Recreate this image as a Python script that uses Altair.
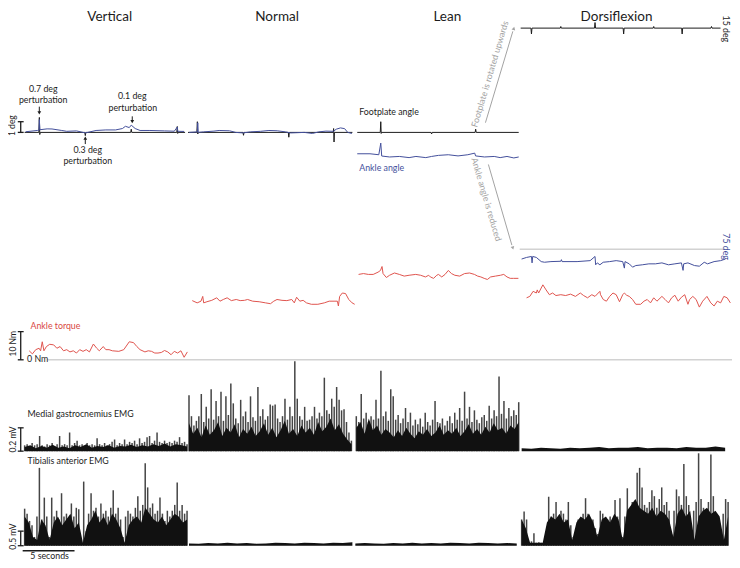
import altair as alt
import pandas as pd

# ---------------- values ----------------
CONDITIONS = ["Vertical", "Normal", "Lean", "Dorsiflexion"]

# Footplate angle (deg) vs time (s from start of each panel)
FOOT_V_T = [0, 1.37, 1.42, 1.46, 1.5, 5.8, 5.85, 5.9, 10.23, 10.28, 10.33, 14.67, 14.72, 14.76, 14.8, 15.47]
FOOT_V_DEG = [0, 0, 1.4, -0.2, 0, 0, -0.3, 0, 0, 0.3, 0, 0, 0.55, -0.1, 0, 0]
FOOT_N_T = [0, 0.85, 0.9, 0.94, 0.98, 5.3, 5.35, 5.4, 9.67, 9.72, 9.77, 14.0, 14.04, 14.08, 14.12, 15.85]
FOOT_N_DEG = [0, 0, 1.0, -0.15, 0, 0, -0.27, 0, 0, -0.45, 0, 0, 0.36, -0.9, 0, 0]
FOOT_L_T = [0.09, 2.31, 2.36, 2.4, 2.44, 7.21, 7.26, 7.31, 11.46, 11.51, 11.56, 15.66]
FOOT_L_DEG = [0, 0, 1.0, -0.1, 0, 0, -0.15, 0, 0, 0.3, 0, 0]
FOOT_D_T = [0, 0.99, 1.04, 1.09, 3.82, 3.87, 3.92, 7.12, 7.17, 7.22, 9.88, 9.93, 9.98,
            12.78, 12.83, 12.88, 15.52, 15.57, 15.62, 18.35, 18.4, 18.45, 19.27]
FOOT_D_DEG = [15, 15, 14.45, 15, 15, 15.15, 15, 15, 15.52, 15, 15, 14.45, 15,
              15, 15.15, 15, 15, 14.45, 15, 15, 15.15, 15, 15]

# Ankle angle (deg, relative; dorsiflexion absolute around 75 deg)
ANK_V_T = [0.1, 1.23, 1.38, 1.42, 1.47, 2.17, 2.64, 3.58, 4.06, 5.0, 5.85, 6.89, 7.83, 8.77, 9.43,
           9.72, 10.09, 10.28, 10.66, 11.13, 12.08, 13.49, 14.43, 14.72, 14.77, 15.38]
ANK_V_DEG = [0.06, 0.18, 0.2, 1.2, 0.25, 0.33, 0.32, 0.18, 0.1, 0.14, -0.05, 0.18, 0.23, 0.23, 0.36,
             0.57, 0.45, 0.68, 0.36, 0.18, 0.18, 0.14, 0.11, 0.5, 0.1, 0.09]
ANK_N_T = [0.1, 0.9, 0.94, 0.98, 1.5, 2.5, 3.0, 4.0, 4.6, 5.3, 6.0, 7.0, 7.8, 8.6, 9.4, 9.9,
           10.5, 11.2, 12.0, 12.6, 13.3, 14.0, 14.3, 14.7, 15.1, 15.4, 15.8]
ANK_N_DEG = [0.0, 0.05, 0.9, 0.0, 0.05, 0.12, 0.18, 0.15, 0.0, -0.05, 0.05, 0.1, 0.18, 0.15, 0.05, -0.05,
             -0.03, 0.0, -0.1, 0.05, 0.12, 0.1, 0.3, 0.42, 0.35, 0.0, -0.1]
ANK_L_T = [0.09, 1.32, 2.17, 2.36, 2.45, 3.21, 4.15, 5.09, 5.75, 6.7, 7.26, 7.92, 8.87, 9.81,
           10.75, 11.42, 11.5, 12.36, 13.3, 13.87, 14.53, 15.19, 15.66]
ANK_L_DEG = [-2.0, -2.0, -2.09, -1.0, -2.21, -2.3, -2.25, -2.36, -2.25, -2.36, -2.25, -2.15, -2.09, -2.2,
             -2.09, -1.94, -2.2, -2.3, -2.25, -2.36, -2.25, -2.39, -2.3]
ANK_D_T = [0.09, 0.57, 1.04, 1.1, 1.16, 1.51, 1.98, 2.3, 2.92, 3.87, 3.93, 3.99, 5.44, 6.7, 7.17, 7.23,
           7.39, 7.64, 7.96, 8.58, 9.21, 9.84, 10.0, 10.06, 10.47, 10.79, 11.1, 11.73, 12.36, 12.99,
           13.62, 14.25, 14.87, 15.5, 15.66, 15.72, 16.13, 16.76, 17.23, 17.7, 18.02, 18.65, 19.28, 19.75]
ANK_D_DEG = [74.09, 74.24, 74.33, 73.73, 74.33, 74.24, 73.85, 73.79, 73.85, 73.88, 74.03, 73.85, 73.85,
             73.94, 74.33, 73.55, 73.73, 73.55, 73.79, 73.85, 73.94, 73.85, 73.24, 73.85, 73.64, 73.33,
             73.48, 73.55, 73.64, 73.64, 73.73, 73.55, 73.64, 73.73, 73.03, 73.64, 73.73, 73.48, 73.42,
             73.79, 73.64, 73.85, 73.94, 74.09]

# Ankle torque (Nm)
TQ_V_T = [0.44, 0.75, 1.07, 1.39, 1.54, 1.7, 1.86, 2.1, 2.42, 2.8, 3.11, 3.42, 3.75, 4.06, 4.37, 4.69,
          5.0, 5.31, 5.63, 5.94, 6.25, 6.63, 6.95, 7.2, 7.58, 7.83, 8.14, 8.46, 9.08, 9.56, 10.09, 10.5,
          10.82, 11.13, 11.6, 11.92, 12.24, 12.55, 12.86, 13.18, 13.49, 13.8, 14.12, 14.43, 14.75,
          15.07, 15.38, 15.69]
TQ_V_NM = [3.2, 2.1, 3.6, 4.1, 3.2, 6.4, 3.2, 4.7, 5.5, 5.3, 4.1, 4.7, 3.2, 3.6, 2.8, 3.2,
           2.4, 3.6, 3.0, 3.6, 2.8, 5.6, 4.1, 3.2, 4.7, 3.6, 3.6, 3.2, 3.0, 3.6, 6.4, 6.1,
           4.7, 3.6, 2.8, 3.2, 3.0, 2.4, 2.4, 2.6, 3.3, 2.8, 1.8, 3.0, 2.4, 3.2, 0.9, 2.8]
TQ_N_T = [0.41, 0.88, 1.25, 1.42, 1.51, 1.82, 2.29, 2.77, 3.08, 3.4, 3.77, 4.18, 4.65, 5.03, 5.44,
          5.75, 6.23, 6.86, 7.48, 7.95, 8.27, 8.58, 9.06, 9.53, 10.0, 10.25, 10.47, 10.78, 11.1,
          11.42, 11.89, 12.52, 13.14, 13.61, 14.08, 14.4, 14.5, 14.62, 14.88, 15.19, 15.5, 15.82, 16.07]
TQ_N_NM = [21.0, 20.2, 20.8, 22.5, 20.2, 20.6, 21.1, 22.0, 20.8, 21.4, 22.0, 21.0, 21.4, 21.0, 21.1,
           21.4, 20.8, 20.6, 20.2, 19.9, 20.8, 21.4, 21.1, 21.0, 21.4, 20.2, 22.2, 20.8, 21.1,
           20.2, 19.7, 19.7, 20.2, 20.8, 20.8, 20.8, 19.1, 22.5, 23.7, 23.5, 21.4, 20.2, 19.7]
TQ_L_T = [0.22, 0.69, 1.16, 1.63, 2.1, 2.33, 2.48, 2.58, 2.9, 3.21, 3.68, 4.15, 4.62, 5.09, 5.73,
          6.2, 6.67, 6.98, 7.14, 7.45, 7.76, 7.92, 8.24, 8.56, 8.87, 9.18, 9.5, 9.97, 10.44, 10.92,
          11.39, 11.7, 12.01, 12.33, 12.64, 12.95, 13.42, 13.9, 14.22, 14.53, 14.84, 15.16, 15.63]
TQ_L_NM = [30.3, 30.6, 30.3, 30.3, 31.1, 31.7, 33.1, 30.6, 29.2, 30.0, 30.8, 30.3, 29.7, 30.0, 30.3,
           30.0, 29.4, 30.0, 29.4, 28.9, 30.0, 30.3, 29.4, 30.3, 31.7, 30.6, 30.0, 29.7, 30.6, 30.8,
           30.3, 29.7, 29.4, 28.9, 28.5, 29.4, 29.7, 30.0, 30.3, 29.4, 28.9, 28.9, 28.9]
TQ_D_T = [0.57, 0.88, 1.2, 1.51, 1.6, 1.73, 2.14, 2.45, 2.77, 3.08, 3.4, 3.87, 4.34, 4.81, 5.28, 5.75,
          6.07, 6.45, 6.86, 7.17, 7.64, 7.7, 7.96, 8.27, 8.58, 8.9, 9.21, 9.53, 9.84, 10.0, 10.22,
          10.47, 10.79, 11.1, 11.57, 11.89, 12.2, 12.52, 12.83, 13.14, 13.62, 13.93, 14.25, 14.56,
          14.87, 15.19, 15.5, 15.82, 16.13, 16.29, 16.6, 16.92, 17.23, 17.55, 17.96, 18.33, 18.65,
          18.96, 19.28, 19.59, 19.91, 20.22]
TQ_D_NM = [22.0, 22.5, 24.3, 23.7, 24.8, 23.7, 26.6, 24.8, 23.1, 23.7, 22.8, 23.1, 22.8, 23.3, 22.5, 23.7,
           22.8, 22.0, 23.1, 22.5, 24.3, 23.1, 21.4, 20.8, 22.5, 23.7, 23.1, 20.6, 23.1, 23.7, 22.9,
           22.5, 21.4, 19.7, 19.7, 20.8, 21.4, 20.2, 22.0, 20.8, 22.5, 21.4, 20.2, 22.0,
           22.9, 20.8, 22.2, 23.1, 19.7, 21.4, 22.5, 21.4, 18.7, 20.8, 22.5, 20.2, 19.1,
           20.8, 20.2, 22.5, 22.0, 20.2]

# EMG spike amplitudes (mV), evenly sampled across each panel
MG_V = [0.05, 0.06, 0.04, 0.07, 0.05, 0.06, 0.13, 0.05, 0.04, 0.06, 0.05, 0.07, 0.04, 0.06, 0.13, 0.05,
        0.06, 0.05, 0.16, 0.05, 0.07, 0.09, 0.05, 0.06, 0.04, 0.07, 0.05, 0.06, 0.05, 0.11, 0.06, 0.05,
        0.07, 0.05, 0.06, 0.08, 0.1, 0.05, 0.07, 0.06, 0.1, 0.06, 0.08, 0.07, 0.09, 0.06, 0.11, 0.07,
        0.08, 0.12, 0.13, 0.07, 0.09, 0.16, 0.08, 0.07, 0.09, 0.07, 0.08, 0.07, 0.09, 0.08, 0.12, 0.07,
        0.08, 0.06]
MG_N = [0.48, 0.3, 0.22, 0.26, 0.3, 0.49, 0.25, 0.38, 0.28, 0.53, 0.27, 0.43, 0.3, 0.51, 0.26, 0.47,
        0.31, 0.58, 0.41, 0.28, 0.24, 0.44, 0.3, 0.34, 0.25, 0.47, 0.29, 0.26, 0.55, 0.3, 0.36, 0.27,
        0.3, 0.4, 0.39, 0.4, 0.28, 0.25, 0.3, 0.45, 0.27, 0.38, 0.3, 0.77, 0.45, 0.3, 0.27, 0.38,
        0.26, 0.27, 0.3, 0.38, 0.28, 0.33, 0.3, 0.63, 0.35, 0.32, 0.45, 0.38, 0.55, 0.44, 0.35, 0.36,
        0.25, 0.16, 0.09]
MG_L = [0.3, 0.25, 0.49, 0.28, 0.33, 0.25, 0.3, 0.27, 0.44, 0.28, 0.69, 0.3, 0.34, 0.26, 0.53, 0.47,
        0.27, 0.31, 0.24, 0.28, 0.37, 0.25, 0.33, 0.22, 0.27, 0.23, 0.28, 0.21, 0.33, 0.25, 0.22, 0.27,
        0.43, 0.25, 0.24, 0.28, 0.22, 0.26, 0.3, 0.24, 0.33, 0.27, 0.37, 0.26, 0.51, 0.28, 0.38, 0.25,
        0.35, 0.27, 0.24, 0.29, 0.31, 0.26, 0.39, 0.28, 0.35, 0.3, 0.64, 0.32, 0.43, 0.28, 0.37, 0.3,
        0.35, 0.31, 0.42]
TA_V = [1.27, 1.1, 0.85, 0.7, 0.3, 1.0, 2.67, 0.9, 1.65, 1.0, 0.3, 1.65, 1.0, 1.2, 0.9, 1.8,
        1.0, 1.1, 0.85, 1.45, 1.0, 1.3, 1.25, 0.2, 2.2, 0.5, 1.1, 1.8, 1.2, 1.3, 1.0, 1.45,
        1.1, 1.2, 1.0, 1.3, 1.9, 1.1, 1.3, 0.9, 0.3, 1.0, 1.2, 1.1, 1.0, 1.3, 1.7, 1.2,
        1.4, 2.83, 2.0, 1.3, 1.45, 1.1, 1.2, 1.65, 1.1, 0.85, 1.2, 1.0, 1.2, 1.4, 2.17, 1.2,
        1.4, 1.1, 1.2]
TA_D = [0.9, 1.17, 0.9, 0.1, 0.15, 0.43, 0.1, 0.12, 0.1, 0.12, 0.15, 1.68, 1.0, 1.1, 1.5, 0.9,
        1.2, 1.1, 0.9, 1.5, 0.7, 0.3, 0.6, 0.9, 0.8, 1.1, 1.63, 1.1, 0.8, 0.9, 0.6, 0.4,
        1.2, 1.1, 0.8, 0.9, 1.0, 0.9, 1.57, 1.0, 1.63, 0.3, 1.0, 1.97, 0.4, 1.5, 1.4, 2.5,
        2.67, 2.0, 1.4, 1.3, 1.5, 1.9, 1.7, 1.3, 1.6, 2.0, 1.4, 1.5, 1.2, 0.4, 1.2, 1.93,
        1.7, 1.4, 2.8, 1.7, 1.4, 0.3, 1.2, 1.5, 3.17, 1.6, 1.3, 1.2, 1.5, 3.13, 1.7, 1.0,
        0.8, 0.3, 1.1, 1.6, 1.5]

# EMG dense "body" level (mV), evenly sampled
MG_V_BODY = [0.035, 0.05, 0.025, 0.045, 0.03, 0.055, 0.03, 0.04, 0.025, 0.05, 0.035, 0.06, 0.03, 0.045,
             0.035, 0.05, 0.03, 0.045, 0.04, 0.055, 0.035, 0.05, 0.04, 0.06, 0.045, 0.065, 0.04, 0.06,
             0.05, 0.04]
MG_N_BODY = [0.24, 0.15, 0.2, 0.12, 0.22, 0.14, 0.18, 0.25, 0.13, 0.2, 0.16, 0.23, 0.12, 0.19, 0.15, 0.21,
             0.13, 0.17, 0.24, 0.14, 0.2, 0.12, 0.18, 0.26, 0.15, 0.19, 0.13, 0.22, 0.16, 0.2, 0.14, 0.25,
             0.17, 0.21, 0.28, 0.18, 0.23, 0.15, 0.1, 0.06]
MG_L_BODY = [0.2, 0.25, 0.15, 0.28, 0.18, 0.22, 0.14, 0.19, 0.16, 0.12, 0.18, 0.13, 0.2, 0.15, 0.11, 0.17,
             0.14, 0.19, 0.13, 0.16, 0.22, 0.14, 0.18, 0.15, 0.2, 0.13, 0.17, 0.23, 0.15, 0.19, 0.14, 0.21,
             0.16, 0.24, 0.18, 0.2, 0.15, 0.22, 0.19, 0.25]
MG_D_BODY = [0.025, 0.02, 0.03, 0.025, 0.02, 0.03, 0.025, 0.03, 0.035, 0.025, 0.03, 0.03, 0.035, 0.025,
             0.03, 0.03, 0.025, 0.035, 0.03, 0.03, 0.04, 0.03]
TA_V_BODY = [1.0, 0.8, 0.3, 0.2, 0.9, 0.7, 0.2, 0.8, 1.0, 0.7, 0.9, 1.1, 0.6, 0.8, 0.1, 0.7, 0.9, 1.2,
             0.8, 1.0, 0.7, 1.1, 0.9, 0.6, 0.1, 0.7, 0.9, 1.0, 0.8, 1.3, 1.1, 0.9, 0.8, 1.0, 0.7, 0.9,
             1.1, 1.0, 0.8, 0.9]
TA_N_BODY = [0.08, 0.07, 0.09, 0.08, 0.1, 0.08, 0.09, 0.07, 0.08, 0.1, 0.09, 0.08, 0.1, 0.09, 0.08, 0.1,
             0.09, 0.12]
TA_L_BODY = [0.08, 0.09, 0.08, 0.07, 0.09, 0.08, 0.1, 0.08, 0.09, 0.08, 0.1, 0.09, 0.08, 0.1, 0.09, 0.08,
             0.09, 0.08]
TA_D_BODY = [0.9, 0.6, 0.1, 0.1, 0.1, 0.1, 0.8, 1.0, 0.9, 1.1, 0.8, 0.9, 0.2, 0.8, 1.0, 0.9, 1.1, 0.8,
             0.3, 0.9, 1.0, 0.8, 1.1, 0.9, 0.2, 1.2, 1.4, 1.6, 1.3, 1.2, 1.1, 1.3, 1.0, 1.2, 1.1, 0.9,
             0.3, 1.1, 1.3, 1.0, 1.2, 0.2, 1.0, 1.2, 1.3, 1.1, 1.2, 1.0, 0.2, 1.0]

# ---------------- layout (figure units = reference pixels) ----------------
PX_PER_S = 10.6
DEG_PX, NM_PX, MG_PX, TA_PX = 11.0, 2.9, 120.0, 30.0
X0 = {"V": 17, "N": 184, "L": 356, "D": 524}
FOOT_BASE = {"V": (128, 0), "N": (128, 0), "L": (128, 0), "D": (20.7, 15)}
ANK_BASE = {"V": (128, 0), "N": (128, 0), "L": (128, 0), "D": (248.3, 75)}
TQ_ZERO, MG_ZERO, TA_ZERO = 362.0, 456.0, 553.3
MG_SPAN = {"V": (17, 183), "N": (185, 351), "L": (356, 522), "D": (525, 733)}
TA_SPAN = {"V": (17, 183), "N": (185, 352), "L": (355, 520), "D": (525, 736)}

BLACK, BLUE, RED, GRAY = "#1c1c1c", "#44509c", "#e0554f", "#a3a3a3"

rows = []
def add_trace(name, p, ts, vs, base_y, ref, unit, color):
    for t, v in zip(ts, vs):
        rows.append({"trace": name, "x": X0[p] + t * PX_PER_S, "y": base_y - (v - ref) * unit, "color": color})

for p, ts, vs in [("V", FOOT_V_T, FOOT_V_DEG), ("N", FOOT_N_T, FOOT_N_DEG),
                  ("L", FOOT_L_T, FOOT_L_DEG), ("D", FOOT_D_T, FOOT_D_DEG)]:
    add_trace("foot" + p, p, ts, vs, FOOT_BASE[p][0], FOOT_BASE[p][1], DEG_PX, BLACK)
for p, ts, vs in [("V", ANK_V_T, ANK_V_DEG), ("N", ANK_N_T, ANK_N_DEG),
                  ("L", ANK_L_T, ANK_L_DEG), ("D", ANK_D_T, ANK_D_DEG)]:
    add_trace("ank" + p, p, ts, vs, ANK_BASE[p][0], ANK_BASE[p][1], DEG_PX, BLUE)
for p, ts, vs in [("V", TQ_V_T, TQ_V_NM), ("N", TQ_N_T, TQ_N_NM),
                  ("L", TQ_L_T, TQ_L_NM), ("D", TQ_D_T, TQ_D_NM)]:
    add_trace("tq" + p, p, ts, vs, TQ_ZERO, 0, NM_PX, RED)
lines = pd.DataFrame(rows)

def spread(vals, span):
    a, b = span
    n = len(vals)
    return [a + i * (b - a) / (n - 1) for i in range(n)]

spk = []
for vals, span, zero, unit in [(MG_V, MG_SPAN["V"], MG_ZERO, MG_PX), (MG_N, MG_SPAN["N"], MG_ZERO, MG_PX),
                               (MG_L, MG_SPAN["L"], MG_ZERO, MG_PX), (TA_V, TA_SPAN["V"], TA_ZERO, TA_PX),
                               (TA_D, TA_SPAN["D"], TA_ZERO, TA_PX)]:
    for x, v in zip(spread(vals, span), vals):
        spk.append({"x": x, "y": zero - v * unit, "y2": zero})
spikes = pd.DataFrame(spk)

bod = []
for name, vals, span, zero, unit in [("mv", MG_V_BODY, MG_SPAN["V"], MG_ZERO, MG_PX),
                                     ("mn", MG_N_BODY, MG_SPAN["N"], MG_ZERO, MG_PX),
                                     ("ml", MG_L_BODY, MG_SPAN["L"], MG_ZERO, MG_PX),
                                     ("md", MG_D_BODY, MG_SPAN["D"], MG_ZERO, MG_PX),
                                     ("tv", TA_V_BODY, TA_SPAN["V"], TA_ZERO, TA_PX),
                                     ("tn", TA_N_BODY, TA_SPAN["N"], TA_ZERO, TA_PX),
                                     ("tl", TA_L_BODY, TA_SPAN["L"], TA_ZERO, TA_PX),
                                     ("td", TA_D_BODY, TA_SPAN["D"], TA_ZERO, TA_PX)]:
    for x, v in zip(spread(vals, span), vals):
        bod.append({"trace": name, "x": x, "y": zero - v * unit, "y2": zero})
body = pd.DataFrame(bod)

# reference lines (0 Nm, 75 deg)
refs = pd.DataFrame([
    {"x": 40, "x2": 740, "y": TQ_ZERO},
    {"x": 523, "x2": 733, "y": ANK_BASE["D"][0]},
])

# scale bars: vertical bar + caps
bars = []
for top_val, unit, base_y in [(1, DEG_PX, 128.0), (10, NM_PX, TQ_ZERO), (0.2, MG_PX, MG_ZERO), (0.5, TA_PX, TA_ZERO)]:
    top = base_y - top_val * unit
    bars.append({"x": 13, "x2": 13, "y": top, "y2": base_y})
    bars.append({"x": 10, "x2": 16, "y": top, "y2": top})
    bars.append({"x": 10, "x2": 16, "y": base_y, "y2": base_y})
bars.append({"x": 15, "x2": 15 + 5 * PX_PER_S, "y": 558.5, "y2": 558.5})
bars_df = pd.DataFrame(bars)

# annotation arrows
arrows = pd.DataFrame([
    {"x": 32, "x2": 32, "y": 101.5, "y2": 107, "color": BLACK},
    {"x": 127, "x2": 127, "y": 111.5, "y2": 116, "color": BLACK},
    {"x": 79, "x2": 79, "y": 140, "y2": 135, "color": BLACK},
    {"x": 488, "x2": 516, "y": 118, "y2": 24, "color": GRAY},
    {"x": 491, "x2": 515, "y": 161, "y2": 244, "color": GRAY},
])
heads = pd.DataFrame([
    {"x": 32, "y": 108, "angle": 180, "color": BLACK},
    {"x": 127, "y": 117, "angle": 180, "color": BLACK},
    {"x": 79, "y": 134, "angle": 0, "color": BLACK},
    {"x": 517, "y": 21, "angle": 16.6, "color": GRAY},
    {"x": 516, "y": 247, "angle": 163.8, "color": GRAY},
])

TS = 13.5   # title size
AS = 8.8    # annotation size
texts = pd.DataFrame([
    {"text": "Vertical", "x": 104, "y": 9, "size": TS, "angle": 0, "color": BLACK, "align": "center"},
    {"text": "Normal", "x": 275, "y": 9, "size": TS, "angle": 0, "color": BLACK, "align": "center"},
    {"text": "Lean", "x": 449, "y": 9, "size": TS, "angle": 0, "color": BLACK, "align": "center"},
    {"text": "Dorsiflexion", "x": 622, "y": 9, "size": TS, "angle": 0, "color": BLACK, "align": "center"},
    {"text": "0.7 deg", "x": 36, "y": 83, "size": AS, "angle": 0, "color": BLACK, "align": "center"},
    {"text": "perturbation", "x": 36, "y": 94.5, "size": AS, "angle": 0, "color": BLACK, "align": "center"},
    {"text": "0.1 deg", "x": 127, "y": 91, "size": AS, "angle": 0, "color": BLACK, "align": "center"},
    {"text": "perturbation", "x": 127.5, "y": 102.5, "size": AS, "angle": 0, "color": BLACK, "align": "center"},
    {"text": "0.3 deg", "x": 81.5, "y": 146, "size": AS, "angle": 0, "color": BLACK, "align": "center"},
    {"text": "perturbation", "x": 81.5, "y": 157.5, "size": AS, "angle": 0, "color": BLACK, "align": "center"},
    {"text": "5 seconds", "x": 42.5, "y": 564, "size": AS, "angle": 0, "color": BLACK, "align": "center"},
    {"text": "1 deg", "x": 4.5, "y": 121, "size": 8.5, "angle": 270, "color": BLACK, "align": "center"},
    {"text": "10 Nm", "x": 5, "y": 345.5, "size": 8.5, "angle": 270, "color": BLACK, "align": "center"},
    {"text": "0.2 mV", "x": 5, "y": 444, "size": 8.5, "angle": 270, "color": BLACK, "align": "center"},
    {"text": "0.5 mV", "x": 5, "y": 544, "size": 8.5, "angle": 270, "color": BLACK, "align": "center"},
    {"text": "15 deg", "x": 733.5, "y": 21.5, "size": AS, "angle": 90, "color": BLACK, "align": "center"},
    {"text": "75 deg", "x": 733.5, "y": 245.5, "size": AS, "angle": 90, "color": BLUE, "align": "center"},
    {"text": "Footplate is rotated upwards", "x": 492.5, "y": 68, "size": AS, "angle": 286.6, "color": GRAY, "align": "center"},
    {"text": "Ankle angle is reduced", "x": 489, "y": 197, "size": AS, "angle": 73.5, "color": GRAY, "align": "center"},
    {"text": "Footplate angle", "x": 359, "y": 107, "size": AS, "angle": 0, "color": BLACK, "align": "left"},
    {"text": "Ankle angle", "x": 359, "y": 164.5, "size": AS, "angle": 0, "color": BLUE, "align": "left"},
    {"text": "Ankle torque", "x": 23, "y": 327, "size": AS, "angle": 0, "color": "#d9473f", "align": "left"},
    {"text": "0 Nm", "x": 19.5, "y": 361.5, "size": AS, "angle": 0, "color": BLACK, "align": "left"},
    {"text": "Medial gastrocnemius EMG", "x": 20, "y": 418, "size": AS, "angle": 0, "color": BLACK, "align": "left"},
    {"text": "Tibialis anterior EMG", "x": 20, "y": 466, "size": AS, "angle": 0, "color": BLACK, "align": "left"},
])

XS = alt.Scale(domain=[0, 740], nice=False, zero=False)
YS = alt.Scale(domain=[0, 568], reverse=True, nice=False, zero=False)
X = alt.X("x:Q", scale=XS, axis=None)
Y = alt.Y("y:Q", scale=YS, axis=None)

spike_layer = alt.Chart(spikes).mark_rule(color="#454545", strokeWidth=1.5).encode(x=X, y=Y, y2="y2:Q")
body_layer = alt.Chart(body).mark_area(color="#111111", opacity=1).encode(
    x=X, y=Y, y2="y2:Q", detail="trace:N")
ref_layer = alt.Chart(refs).mark_rule(color="#d2d2d2", strokeWidth=1.6).encode(x=X, x2="x2:Q", y=Y)
line_layer = alt.Chart(lines).mark_line(strokeWidth=1).encode(
    x=X, y=Y, detail="trace:N", color=alt.Color("color:N", scale=None))
bar_layer = alt.Chart(bars_df).mark_rule(color=BLACK, strokeWidth=1.3).encode(x=X, x2="x2:Q", y=Y, y2="y2:Q")
arrow_layer = alt.Chart(arrows).mark_rule(strokeWidth=1).encode(
    x=X, x2="x2:Q", y=Y, y2="y2:Q", color=alt.Color("color:N", scale=None))
head_layer = alt.Chart(heads).mark_point(shape="triangle-up", filled=True, size=14, opacity=1).encode(
    x=X, y=Y, angle=alt.Angle("angle:Q", scale=None), color=alt.Color("color:N", scale=None))

text_layers = []
for al in ["center", "left"]:
    text_layers.append(
        alt.Chart(texts[texts["align"] == al]).mark_text(font="Lato", align=al, baseline="middle").encode(
            x=X, y=Y, text="text:N",
            size=alt.Size("size:Q", scale=None),
            angle=alt.Angle("angle:Q", scale=None),
            color=alt.Color("color:N", scale=None),
        )
    )

chart = alt.layer(
    spike_layer, body_layer, ref_layer, line_layer, bar_layer, arrow_layer, head_layer, *text_layers
).properties(
    width=724, height=552, padding=0, autosize=alt.AutoSizeParams(type="none")
).configure_view(stroke=None)

chart.save("out.html", embed_options={"renderer": "svg", "actions": False})
